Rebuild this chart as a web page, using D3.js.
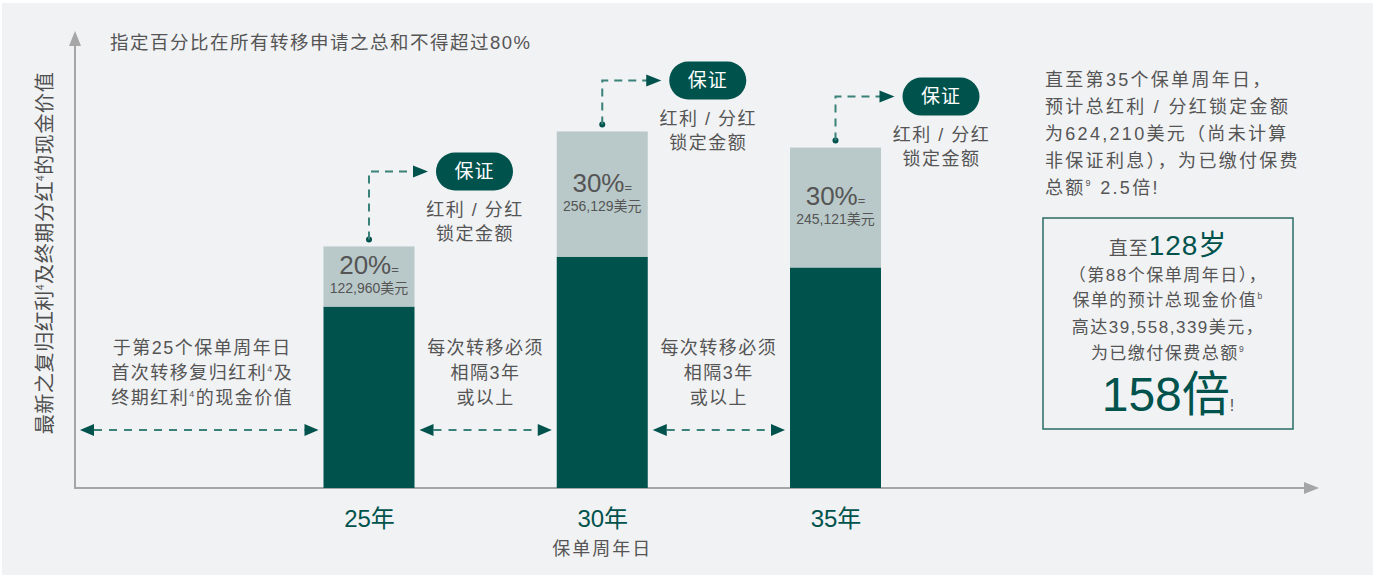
<!DOCTYPE html>
<html>
<head>
<meta charset="utf-8">
<script src="https://cdn.jsdelivr.net/npm/d3@7"></script>
<style>
  body { margin: 0; background: #fff; }
  svg { display: block; font-family: "Liberation Sans", "Noto Sans CJK SC", sans-serif; }
</style>
</head>
<body>
<div id="chart"></div>
<script>
// data
var years = ["25年", "30年", "35年"];
var cashValue = [371000, 473000, 451000];       // remaining cash value (dark part)
var lockedValue = [122960, 256129, 245121];     // locked-in amount (light part)
var lockedPct = ["20%", "30%", "30%"];
var calloutLift = [75, 51, 51];                 // how far the "保证" pill sits above each bar

var gapNotes = [
  ["于第25个保单周年日", "首次转移复归红利^4及", "终期红利^4的现金价值"],
  ["每次转移必须", "相隔3年", "或以上"],
  ["每次转移必须", "相隔3年", "或以上"]
];
var topNote = "指定百分比在所有转移申请之总和不得超过80%";
var yTitle = "最新之复归红利^4及终期分红^4的现金价值";
var xTitle = "保单周年日";
var sideNote = [
  "直至第35个保单周年日，",
  "预计总红利 / 分红锁定金额",
  "为624,210美元（尚未计算",
  "非保证利息），为已缴付保费",
  "总额^9 2.5倍!"
];
var boxLines = ["（第88个保单周年日），", "保单的预计总现金价值^b", "高达39,558,339美元，", "为已缴付保费总额^9"];

var W = 1373, H = 575;
var dark = "#00524c", light = "#b9c9c9", grey = "#555", axisGrey = "#a6a6a6", dashTeal = "#3a8179";
var margin = {left: 75, bottom: 87};
var bw = 91;

var svg = d3.select("#chart").append("svg").attr("width", W).attr("height", H);
svg.append("rect").attr("x", 2).attr("y", 3).attr("width", W).attr("height", H).attr("fill", "#f1f2f4");

var x = d3.scalePoint().domain(years).range([369, 835.5]);
var y = d3.scaleLinear().domain([0, 1000000]).range([H - margin.bottom, -1]);
var y0 = y(0);

// text helper, "^x" makes a superscript
function addText(g, str, px, py, size, fill, anchor, ls) {
  var t = g.append("text").attr("x", px).attr("y", py).attr("dy", "0.35em")
    .attr("text-anchor", anchor || "middle").attr("font-size", size)
    .attr("fill", fill || grey).attr("letter-spacing", ls == null ? 1.5 : ls);
  var back = 0;
  str.split(/(\^\w)/).forEach(function(p) {
    if (!p) return;
    if (p[0] === "^") {
      t.append("tspan").attr("font-size", size * 0.5).attr("dy", -size * 0.42).text(p[1]);
      back = size * 0.42;
    } else {
      var s = t.append("tspan").text(p);
      if (back) { s.attr("dy", back); back = 0; }
    }
  });
  return t;
}

function tri(g, tipX, tipY, dir, len, half, fill) {
  var pts;
  if (dir === "right") pts = [[tipX, tipY], [tipX - len, tipY - half], [tipX - len, tipY + half]];
  if (dir === "left") pts = [[tipX, tipY], [tipX + len, tipY - half], [tipX + len, tipY + half]];
  if (dir === "up") pts = [[tipX, tipY], [tipX - half, tipY + len], [tipX + half, tipY + len]];
  g.append("path").attr("d", "M" + pts.join("L") + "Z").attr("fill", fill);
}

// axes
svg.append("line").attr("x1", margin.left).attr("x2", margin.left).attr("y1", y0 + 1).attr("y2", 44)
  .attr("stroke", axisGrey).attr("stroke-width", 2);
tri(svg, margin.left, 31, "up", 15, 6, axisGrey);
svg.append("line").attr("x1", margin.left).attr("x2", 1305).attr("y1", y0).attr("y2", y0)
  .attr("stroke", axisGrey).attr("stroke-width", 2);
tri(svg, 1319, y0, "right", 15, 6, axisGrey);

// bars
var bars = svg.selectAll(".bar").data(years).enter().append("g").attr("class", "bar");
bars.append("rect")
  .attr("x", d => x(d) - bw / 2).attr("width", bw)
  .attr("y", (d, i) => y(cashValue[i])).attr("height", (d, i) => y0 - y(cashValue[i]))
  .attr("fill", dark);
bars.append("rect")
  .attr("x", d => x(d) - bw / 2).attr("width", bw)
  .attr("y", (d, i) => y(cashValue[i] + lockedValue[i]))
  .attr("height", (d, i) => y(cashValue[i]) - y(cashValue[i] + lockedValue[i]))
  .attr("fill", light);

// labels in the light part
years.forEach(function(d, i) {
  var mid = (y(cashValue[i]) + y(cashValue[i] + lockedValue[i])) / 2;
  var t = svg.append("text").attr("x", x(d)).attr("y", mid - 8).attr("dy", "0.35em")
    .attr("text-anchor", "middle").attr("fill", grey);
  t.append("tspan").attr("font-size", 26).text(lockedPct[i]);
  t.append("tspan").attr("font-size", 13).text("=");
  svg.append("text").attr("x", x(d)).attr("y", mid + 12).attr("dy", "0.35em")
    .attr("text-anchor", "middle").attr("fill", grey).attr("font-size", 14)
    .text(d3.format(",")(lockedValue[i]) + "美元");
});

// callouts
years.forEach(function(d, i) {
  var cx = x(d), top = y(cashValue[i] + lockedValue[i]);
  var py = top - calloutLift[i];
  svg.append("circle").attr("cx", cx).attr("cy", top - 7).attr("r", 3).attr("fill", dark);
  svg.append("path").attr("d", "M" + cx + "," + (top - 7) + "V" + py + "H" + (cx + 45))
    .attr("fill", "none").attr("stroke", dashTeal).attr("stroke-width", 2).attr("stroke-dasharray", "8,6");
  tri(svg, cx + 59, py, "right", 15, 6, dark);
  svg.append("rect").attr("x", cx + 67).attr("y", py - 19).attr("width", 77).attr("height", 38)
    .attr("rx", 19).attr("fill", dark);
  addText(svg, "保证", cx + 105.5, py, 19, "#fff", "middle", 1);
  addText(svg, "红利 / 分红", cx + 106, py + 38, 18, grey);
  addText(svg, "锁定金额", cx + 106, py + 62, 18, grey);
});

// gaps between transfers
var gapEdges = [margin.left, x(years[0]) + bw / 2, x(years[1]) + bw / 2];
years.forEach(function(d, i) {
  var a = gapEdges[i] + 5, b = x(d) - bw / 2 - 5, ay = 430;
  svg.append("line").attr("x1", a + 14).attr("x2", b - 14).attr("y1", ay).attr("y2", ay)
    .attr("stroke", dashTeal).attr("stroke-width", 2).attr("stroke-dasharray", "8,7");
  tri(svg, a, ay, "left", 14, 6, dark);
  tri(svg, b, ay, "right", 14, 6, dark);
  gapNotes[i].forEach(function(line, k) {
    addText(svg, line, (a + b) / 2 + (i === 0 ? 3 : 0), 348 + k * 25, 18, grey);
  });
});

// x axis labels
svg.append("g").attr("transform", "translate(0," + (y0 + 31) + ")")
  .call(d3.axisBottom(x).tickSize(0).tickPadding(0))
  .call(g => g.select(".domain").remove())
  .selectAll("text").attr("font-size", 24).attr("fill", dark)
  .attr("font-family", "Liberation Sans, Noto Sans CJK SC, sans-serif").attr("dy", "0.35em");
addText(svg, xTitle, x(years[1]), 549, 18, grey, "middle", 2);

// titles
addText(svg, topNote, 110, 43, 18.5, grey, "start", 1.5);
addText(svg, yTitle, 0, 0, 20, "#4f4f4f", "middle", 0.6)
  .attr("transform", "translate(45,253) rotate(-90)");

// side note
sideNote.forEach(function(line, k) {
  addText(svg, line, 1045, 80 + k * 26.8, 18, grey, "start", 2.3);
});

// box
svg.append("rect").attr("x", 1043).attr("y", 218).attr("width", 250).attr("height", 211)
  .attr("fill", "none").attr("stroke", "#2b6b64").attr("stroke-width", 1.5);
var bx = 1168;
var t1 = svg.append("text").attr("x", bx).attr("y", 255).attr("text-anchor", "middle").attr("letter-spacing", 1);
t1.append("tspan").attr("font-size", 19).attr("fill", grey).text("直至");
t1.append("tspan").attr("font-size", 28).attr("fill", dark).text("128岁");
boxLines.forEach(function(line, k) {
  addText(svg, line, bx, [275, 300, 327, 353][k], 17, grey, "middle", 1.5);
});
var t2 = svg.append("text").attr("x", bx).attr("y", 411).attr("text-anchor", "middle");
t2.append("tspan").attr("font-size", 48).attr("fill", dark).text("158倍");
t2.append("tspan").attr("font-size", 16).attr("fill", grey).text("!");
</script>
</body>
</html>
